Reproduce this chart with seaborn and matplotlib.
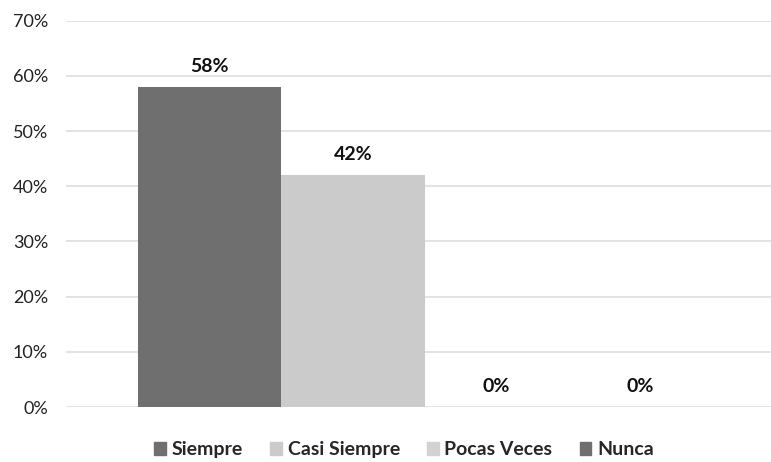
import matplotlib
matplotlib.use("Agg")
import matplotlib.pyplot as plt
import pandas as pd
import seaborn as sns

CATEGORIES = ["Siempre", "Casi Siempre", "Pocas Veces", "Nunca"]
VALUES = [0.58, 0.42, 0.0, 0.0]
LABELS = ["58%", "42%", "0%", "0%"]
COLORS = ["#6f6f6f", "#cbcbcb", "#d2d2d2", "#6f6f6f"]


def main():
    sns.set_theme(style="white")
    plt.rcParams["font.family"] = ["Lato", "DejaVu Sans"]

    df = pd.DataFrame({"grupo": [""] * len(CATEGORIES), "serie": CATEGORIES, "valor": VALUES})

    fig = plt.figure(figsize=(7.71, 4.62), dpi=100)
    # plot area runs past the right edge, as in the original
    ax = fig.add_axes([0.0856, 0.119, 0.931, 0.836])

    sns.barplot(data=df, x="grupo", y="valor", hue="serie", hue_order=CATEGORIES,
                palette=COLORS, width=0.8, saturation=1, linewidth=0, ax=ax, legend=False)

    ax.set_xlim(-0.5, 0.5)
    ax.set_ylim(0, 0.7)
    ax.set_yticks([i / 10 for i in range(8)])
    ax.set_yticklabels([f"{i * 10}%" for i in range(8)], fontsize=13, color="#222222")
    ax.set_xticks([])
    ax.set_xlabel("")
    ax.set_ylabel("")
    ax.grid(axis="y", color="#dedede", linewidth=1.2)
    ax.set_axisbelow(True)
    for s in ax.spines.values():
        s.set_visible(False)
    ax.tick_params(axis="y", length=0, pad=13)

    for bar, lab in zip(ax.patches, LABELS):
        x = bar.get_x() + bar.get_width() / 2
        ax.annotate(lab, (x, bar.get_height()), xytext=(0, 9), textcoords="offset points",
                    ha="center", va="bottom", fontsize=14, fontweight="bold", color="#111111")

    handles = [plt.Rectangle((0, 0), 1, 1, color=c) for c in COLORS]
    fig.legend(handles, CATEGORIES, loc="lower center", bbox_to_anchor=(0.524, -0.03),
               ncol=4, frameon=False, handlelength=0.6, handleheight=0.6,
               handletextpad=0.3, columnspacing=1.4,
               prop={"size": 14, "weight": "bold"})

    fig.savefig("out.png", dpi=100)


if __name__ == "__main__":
    main()
